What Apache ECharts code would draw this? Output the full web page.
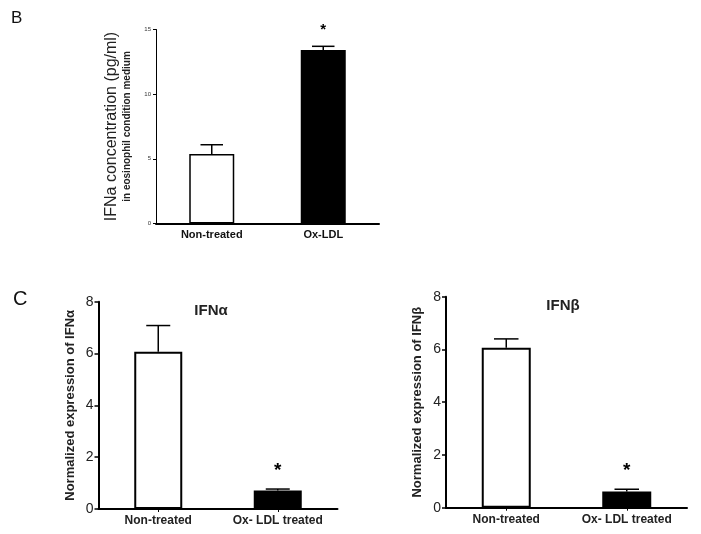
<!DOCTYPE html>
<html>
<head>
<meta charset="utf-8">
<script src="https://cdn.jsdelivr.net/npm/echarts@6/dist/echarts.min.js"></script>
<style>
  html, body { margin: 0; padding: 0; background: #fff; }
  #chart { width: 701px; height: 534px; }
</style>
</head>
<body>
<div id="chart"></div>
<script>
// panel B : IFNa in eosinophil condition medium
var catsB = ["Non-treated", "Ox-LDL"];
var meanB = [5.37, 13.42];
var errB = [0.72, 0.28];
var starB = ["", "*"];

// panel C : normalized expression
var catsC = ["Non-treated", "Ox- LDL treated"];
var meanAlpha = [6.07, 0.71];
var errAlpha = [1.01, 0.06];
var starAlpha = ["", "*"];
var meanBeta = [6.06, 0.61];
var errBeta = [0.34, 0.09];
var starBeta = ["", "*"];

var fills = ["#ffffff", "#000000"];
var narrow = '"Liberation Sans Narrow", "Arial Narrow", "Liberation Sans", Arial, sans-serif';
var arial = '"Liberation Sans", Arial, sans-serif';

var chart = echarts.init(document.getElementById("chart"));

// error bar (upper half only) + significance star
function errSeries(idx, means, errs, stars, barW, starSize) {
  return {
    type: "custom",
    xAxisIndex: idx,
    yAxisIndex: idx,
    z: 5,
    data: means.map(function (m, i) { return [i, m, errs[i]]; }),
    renderItem: function (params, api) {
      var i = api.value(0), m = api.value(1), e = api.value(2);
      var p0 = api.coord([i, m]);
      var p1 = api.coord([i, m + e]);
      var half = barW / 4;
      var children = [
        { type: "line", shape: { x1: p0[0], y1: p0[1], x2: p1[0], y2: p1[1] },
          style: { stroke: "#000", lineWidth: 1.5 } },
        { type: "line", shape: { x1: p1[0] - half, y1: p1[1], x2: p1[0] + half, y2: p1[1] },
          style: { stroke: "#000", lineWidth: 1.5 } }
      ];
      var s = stars[params.dataIndex];
      if (s) {
        children.push({ type: "text", x: p1[0], y: p1[1] - 9,
          style: { text: s, fill: "#000", font: "bold " + starSize + "px " + arial,
                   align: "center", verticalAlign: "bottom" } });
      }
      return { type: "group", children: children };
    }
  };
}

function barSeries(idx, means, barW, border) {
  return {
    type: "bar",
    xAxisIndex: idx,
    yAxisIndex: idx,
    barWidth: barW,
    silent: true,
    data: means.map(function (m, i) {
      return { value: m, itemStyle: { color: fills[i], borderColor: "#000", borderWidth: border } };
    })
  };
}

function yAxisC(idx, name) {
  return {
    gridIndex: idx, type: "value", min: 0, max: 8, interval: 2,
    name: name, nameLocation: "middle", nameGap: 22,
    nameTextStyle: { fontFamily: narrow, fontWeight: "bold", fontSize: 13, color: "#222" },
    axisLine: { show: true, lineStyle: { color: "#000", width: 2 } },
    axisTick: { show: true, length: 4, lineStyle: { color: "#000", width: 1.5 } },
    axisLabel: { fontFamily: narrow, fontSize: 14, color: "#222", margin: 5 },
    splitLine: { show: false }
  };
}

function xAxisC(idx) {
  return {
    gridIndex: idx, type: "category", data: catsC,
    axisLine: { lineStyle: { color: "#000", width: 2 } },
    axisTick: { show: true, alignWithLabel: true, length: 3, lineStyle: { color: "#000" } },
    axisLabel: { interval: 0, fontFamily: narrow, fontWeight: "bold", fontSize: 12, color: "#222", margin: 6 }
  };
}

var option = {
  animation: false,
  backgroundColor: "#fff",
  title: [
    { text: "B", left: 6, top: 5, textStyle: { fontFamily: arial, fontWeight: "normal", fontSize: 17, color: "#111" } },
    { text: "C", left: 8, top: 284, textStyle: { fontFamily: arial, fontWeight: "normal", fontSize: 20, color: "#111" } },
    { text: "IFNα", left: 206, top: 298, textAlign: "center",
      textStyle: { fontFamily: narrow, fontWeight: "bold", fontSize: 15, color: "#222" } },
    { text: "IFNβ", left: 558, top: 293, textAlign: "center",
      textStyle: { fontFamily: narrow, fontWeight: "bold", fontSize: 15, color: "#222" } }
  ],
  grid: [
    { left: 156, right: 322, top: 29.5, bottom: 310.5 },
    { left: 98.5, right: 363.5, top: 301.7, bottom: 25 },
    { left: 446, right: 14, top: 296.7, bottom: 26.3 }
  ],
  xAxis: [
    {
      gridIndex: 0, type: "category", data: catsB,
      axisLine: { lineStyle: { color: "#000", width: 2 } },
      axisTick: { show: false },
      axisLabel: { interval: 0, fontFamily: arial, fontWeight: "bold", fontSize: 11, color: "#111", margin: 6 }
    },
    xAxisC(1),
    xAxisC(2)
  ],
  yAxis: [
    {
      gridIndex: 0, type: "value", min: 0, max: 15, interval: 5,
      name: "{a|IFNa concentration (pg/ml)}\n{b|in eosinophil condition medium}",
      nameLocation: "middle", nameGap: 22,
      nameTextStyle: {
        rich: {
          a: { fontFamily: arial, fontSize: 16, color: "#222", lineHeight: 19 },
          b: { fontFamily: arial, fontWeight: "bold", fontSize: 10, color: "#222", lineHeight: 13 }
        }
      },
      axisLine: { show: true, lineStyle: { color: "#000", width: 1 } },
      axisTick: { show: true, length: 3, lineStyle: { color: "#000" } },
      axisLabel: { fontFamily: arial, fontSize: 6, color: "#333", margin: 5 },
      splitLine: { show: false }
    },
    yAxisC(1, "Normalized expression of IFNα"),
    yAxisC(2, "Normalized expression of IFNβ")
  ],
  series: [
    barSeries(0, meanB, 45, 1.5),
    errSeries(0, meanB, errB, starB, 45, 15),
    barSeries(1, meanAlpha, 48, 2),
    errSeries(1, meanAlpha, errAlpha, starAlpha, 48, 19),
    barSeries(2, meanBeta, 49, 2),
    errSeries(2, meanBeta, errBeta, starBeta, 49, 19)
  ]
};

chart.setOption(option);
</script>
</body>
</html>
